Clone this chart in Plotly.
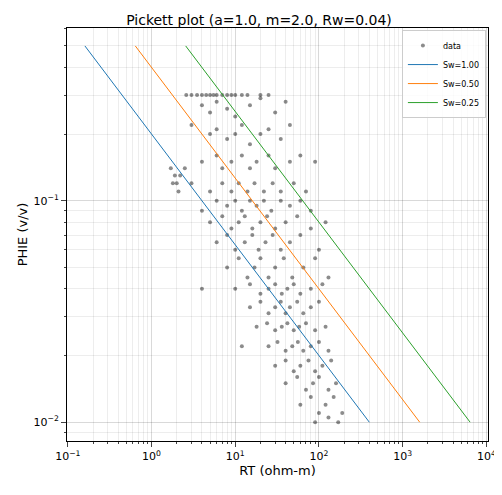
import plotly.graph_objects as go

# (RT ohm-m, PHIE v/v) samples
samples = [
(2.6,0.3),(3,0.3),(3.5,0.3),(4,0.3),(4.5,0.3),(5,0.3),(5.5,0.3),(6,0.3),(7,0.3),(8,0.3),(9,0.3),(10,0.3),(12,0.3),(14,0.3),(20,0.3),(25,0.3),
(4,0.27),(5,0.25),(6,0.28),(8,0.26),(10,0.24),(15,0.27),(20,0.29),(30,0.25),(40,0.28),
(3,0.22),(5,0.2),(6,0.21),(8,0.19),(10,0.2),(12,0.22),(15,0.18),(20,0.2),(25,0.21),(35,0.19),(45,0.22),
(4,0.15),(6,0.16),(7,0.14),(9,0.15),(12,0.16),(15,0.14),(18,0.15),(25,0.16),(30,0.14),(45,0.15),(60,0.16),(90,0.15),
(1.7,0.14),(1.9,0.13),(2,0.12),(2.2,0.13),(2.5,0.14),(2.1,0.11),(1.8,0.12),
(3,0.12),(5,0.11),(7,0.12),(9,0.11),(11,0.12),(14,0.11),(17,0.12),(22,0.11),(28,0.12),(35,0.11),(50,0.12),(70,0.11),
(4,0.09),(6,0.1),(8,0.095),(10,0.1),(12,0.09),(15,0.1),(18,0.095),(22,0.1),(27,0.09),(35,0.1),(45,0.095),(60,0.1),(80,0.09),
(5,0.08),(7,0.085),(9,0.075),(11,0.08),(13,0.085),(16,0.075),(20,0.08),(24,0.085),(30,0.075),(40,0.08),(55,0.085),(80,0.075),(120,0.08),
(6,0.065),(8,0.07),(10,0.06),(13,0.065),(16,0.07),(19,0.06),(23,0.065),(28,0.07),(35,0.06),(45,0.065),(60,0.07),(100,0.06),
(8,0.05),(11,0.055),(14,0.045),(17,0.05),(20,0.055),(25,0.045),(30,0.05),(38,0.055),(48,0.045),(65,0.05),(90,0.055),(130,0.045),
(4,0.04),(10,0.04),(15,0.042),(20,0.038),(25,0.04),(30,0.042),(36,0.038),(42,0.04),(50,0.042),(60,0.038),(80,0.04),(110,0.042),
(15,0.033),(20,0.035),(25,0.031),(30,0.033),(35,0.035),(40,0.031),(45,0.033),(55,0.035),(65,0.031),(80,0.033),(100,0.035),
(18,0.027),(24,0.028),(30,0.026),(36,0.027),(42,0.028),(50,0.026),(58,0.027),(70,0.028),(90,0.026),(120,0.027),
(12,0.022),(25,0.022),(32,0.023),(40,0.021),(48,0.022),(56,0.023),(65,0.021),(80,0.022),(100,0.023),(130,0.021),
(30,0.018),(40,0.019),(50,0.017),(60,0.018),(75,0.019),(90,0.017),(110,0.018),(140,0.019),
(40,0.015),(55,0.016),(70,0.014),(85,0.015),(100,0.016),(130,0.014),(160,0.015),
(60,0.012),(80,0.013),(100,0.011),(120,0.012),(150,0.013),(190,0.011),
(90,0.01),(130,0.0105),(170,0.01),
]
rt_data = [s[0] for s in samples]
phie_data = [s[1] for s in samples]

a, m, n, rw = 1.0, 2.0, 2.0, 0.04
sw_values = [1.00, 0.50, 0.25]
sw_colors = ["#1f77b4", "#ff7f0e", "#2ca02c"]
phi_line = [0.5, 0.01]

x_minor = [k * 10 ** e for e in range(-1, 4) for k in range(2, 10)]
y_minor = [k * 10 ** e for e in range(-3, 0) for k in range(2, 10)]

fig = go.Figure()
fig.add_trace(go.Scatter(x=rt_data, y=phie_data, mode="markers", name="data",
    marker=dict(color="rgba(0,0,0,0.45)", size=4, line=dict(width=0))))
for sw, c in zip(sw_values, sw_colors):
    rt_line = [a * rw / (p ** m * sw ** n) for p in phi_line]
    fig.add_trace(go.Scatter(x=rt_line, y=phi_line, mode="lines", name=f"Sw={sw:.2f}",
        line=dict(color=c, width=1)))

tickfont = dict(family="DejaVu Sans", size=11, color="black")
fig.update_layout(
    width=502, height=495, margin=dict(l=59, r=22, t=20, b=62),
    plot_bgcolor="white", paper_bgcolor="white",
    font=dict(family="DejaVu Sans", size=11, color="black"),
    title=dict(text="Pickett plot (a=1.0, m=2.0, Rw=0.04)", x=0.5, xanchor="center", y=0.985, yanchor="top", font=dict(size=14)),
    legend=dict(x=0.995, y=0.995, xanchor="right", yanchor="top", bgcolor="rgba(255,255,255,0.8)",
                bordercolor="#ccc", borderwidth=1, font=dict(size=8), itemwidth=30),
    xaxis=dict(type="log", range=[-1.01, 4.02], showline=True, linecolor="black", mirror=True,
               ticks="outside", tickvals=[0.1, 1, 10, 100, 1000, 10000],
               ticktext=["10<sup>−1</sup>", "10<sup>0</sup>", "10<sup>1</sup>", "10<sup>2</sup>", "10<sup>3</sup>", "10<sup>4</sup>"],
               showgrid=True, gridcolor="rgba(0,0,0,0.15)", gridwidth=0.8,
               minor=dict(tickvals=x_minor, showgrid=True, gridcolor="rgba(0,0,0,0.07)", ticks="outside", ticklen=2),
               title=dict(text="RT (ohm-m)", standoff=2), zeroline=False, tickfont=tickfont),
    yaxis=dict(type="log", range=[-2.085, -0.22], showline=True, linecolor="black", mirror=True,
               ticks="outside", tickvals=[0.01, 0.1], ticktext=["10<sup>−2</sup>", "10<sup>−1</sup>"],
               showgrid=True, gridcolor="rgba(0,0,0,0.15)", gridwidth=0.8,
               minor=dict(tickvals=y_minor, showgrid=True, gridcolor="rgba(0,0,0,0.07)", ticks="outside", ticklen=2),
               title=dict(text="PHIE (v/v)", standoff=2), zeroline=False, tickfont=tickfont),
)
fig.write_html("out.html")
